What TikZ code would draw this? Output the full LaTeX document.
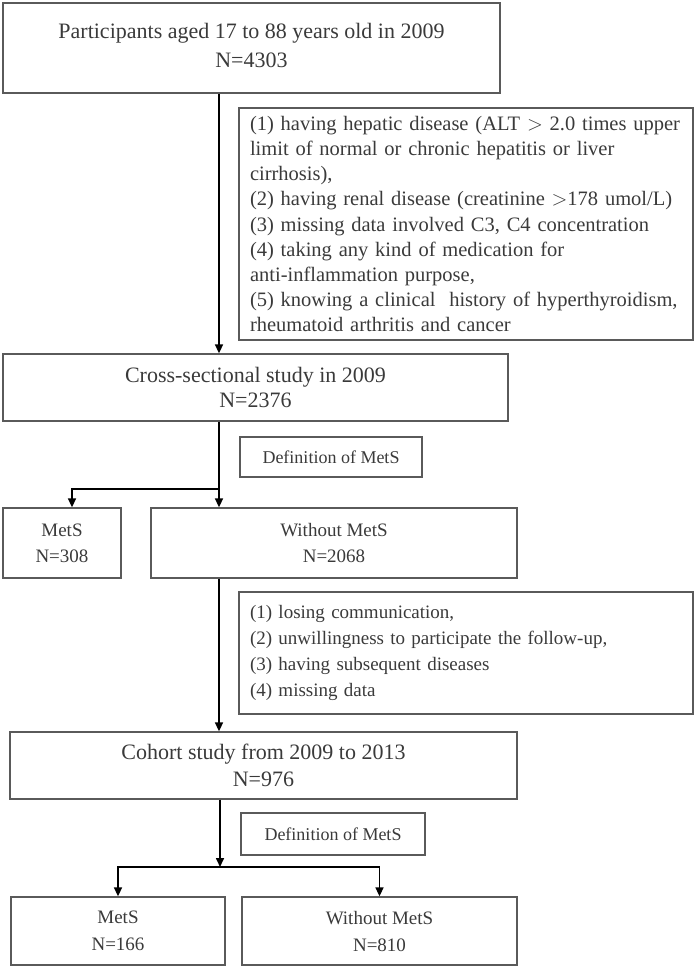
\documentclass[tikz,border=0pt]{standalone}
\usepackage{fontspec}
\setmainfont{Liberation Serif}
\usetikzlibrary{arrows.meta}

\definecolor{boxline}{HTML}{5A5A5A}
\definecolor{boxtext}{HTML}{3A3A3A}

\tikzset{
  box/.style={draw=boxline, line width=1.3pt, text=boxtext, align=center,
    inner sep=0pt, font=\fontsize{19}{27}\selectfont},
  bigbox/.style={box, font=\fontsize{22}{27}\selectfont},
  listbox/.style={box, align=left, inner xsep=11pt},
  defbox/.style={box, font=\fontsize{18}{22}\selectfont},
  flow/.style={draw=black, line width=1.6pt, -{Triangle[length=9pt,width=8pt]}}
}

\begin{document}
\begin{tikzpicture}[x=1pt, y=-1pt]
				\useasboundingbox (0,0) rectangle (697,968);

				\draw (251.5,48) node[bigbox, minimum width=497, minimum height=90] (start) {\raisebox{5pt}{\begin{tabular}{@{}c@{}}Participants aged 17 to 88 years old in 2009\\[2pt]N=4303\end{tabular}}};
				\draw (466,224) node[listbox, minimum width=454, minimum height=232, text width=432, font=\fontsize{20.5}{25.2}\selectfont] (excl1) {(1) having hepatic disease (ALT $>$ 2.0 times upper\\limit of normal or chronic hepatitis or liver\\cirrhosis),\\(2) having renal disease (creatinine $>$178 umol/L)\\(3) missing data involved C3, C4 concentration\\(4) taking any kind of medication for\\anti-inflammation purpose,\\(5) knowing a clinical\ \ history of hyperthyroidism,\\rheumatoid arthritis and cancer};
				\draw (255.5,387.5) node[bigbox, minimum width=505, minimum height=67, font=\fontsize{22}{25.5}\selectfont] (cross) {Cross-sectional study in 2009\\N=2376};
				\draw (331,457) node[defbox, minimum width=182, minimum height=40] (def1) {Definition of MetS};
				\draw (62,543) node[box, minimum width=118, minimum height=70, font=\fontsize{19}{26}\selectfont] (mets1) {MetS\\N=308};
				\draw (334,543) node[box, minimum width=366, minimum height=70, font=\fontsize{19}{26}\selectfont] (nomets1) {Without MetS\\N=2068};
				\draw (466,653) node[listbox, minimum width=454, minimum height=122, text width=432, font=\fontsize{19}{25.7}\selectfont] (excl2) {(1) losing communication,\\(2) unwillingness to participate the follow-up,\\(3) having subsequent diseases\\(4) missing data};
				\draw (263.5,765.5) node[bigbox, minimum width=507, minimum height=67, font=\fontsize{22}{27}\selectfont] (cohort) {Cohort study from 2009 to 2013\\N=976};
				\draw (333,834) node[defbox, minimum width=184, minimum height=42] (def2) {Definition of MetS};
				\draw (118,931) node[box, minimum width=214, minimum height=68, font=\fontsize{19}{27}\selectfont] (mets2) {MetS\\N=166};
				\draw (379.5,931) node[box, minimum width=275, minimum height=68, font=\fontsize{19}{27}\selectfont] (nomets2) {Without MetS\\N=810};

				\coordinate (spine) at (219,0);
				\coordinate (split1) at (219,489);
				\coordinate (turn1) at (72,489);
				\coordinate (split2) at (220,867);

				\draw[flow] (start.south -| spine) -- (cross.north -| spine);
				\draw[flow] (cross.south -| spine) -- (nomets1.north -| spine);
				\draw[flow] (split1) -- (turn1) -- (turn1 |- mets1.north);
				\draw[flow] (nomets1.south -| spine) -- (cohort.north -| spine);
				\draw[flow] (cohort.south -| split2) -- (split2);
				\draw[flow] (split2) -| (mets2.north);
				\draw[flow] (split2) -| (nomets2.north);
			\end{tikzpicture}
\end{document}
